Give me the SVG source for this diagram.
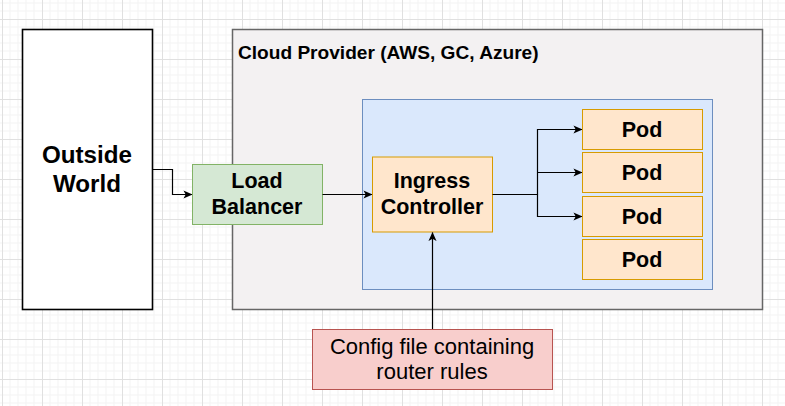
<svg xmlns="http://www.w3.org/2000/svg" width="785" height="406" viewBox="0 0 785 406">
<style>
text{font-family:"Liberation Sans",Arial,Helvetica,sans-serif;fill:#000;text-anchor:middle}
.b{font-weight:bold}
.conn{fill:none;stroke:#000;stroke-width:1.2}
</style>
<defs>
<pattern id="grid" x="2" y="19" width="40" height="40" patternUnits="userSpaceOnUse">
<path d="M8,0V40M16,0V40M24,0V40M32,0V40M0,8H40M0,16H40M0,24H40M0,32H40" fill="none" stroke="#f3f3f3" stroke-width="1"/>
<path d="M0.5,0V40M0,0.5H40" fill="none" stroke="#e0e0e0" stroke-width="1"/>
</pattern>
<marker id="arr" viewBox="0 0 10 10" refX="9.5" refY="5" markerWidth="9" markerHeight="9" markerUnits="userSpaceOnUse" orient="auto">
<path d="M0,0.5 L10,5 L0,9.5 L2.5,5 z" fill="#000"/>
</marker>
</defs>
<rect width="785" height="406" fill="#fff"/>
<rect width="785" height="406" fill="url(#grid)"/>

<g id="outside-world">
<rect x="22.5" y="29.5" width="130" height="280" fill="#fff" stroke="#000" stroke-width="1.6"/>
<text class="b" x="87" y="163" font-size="24.2">Outside</text>
<text class="b" x="87" y="192" font-size="24.2">World</text>
</g>

<g id="cloud-provider">
<rect x="232.5" y="29.5" width="530" height="280" fill="#f3f1f2" stroke="#666" stroke-width="1.5"/>
<text class="b" x="238" y="58.5" font-size="19.1" style="text-anchor:start">Cloud Provider (AWS, GC, Azure)</text>
</g>

<g id="cluster">
<rect x="362.5" y="99.5" width="350" height="190" fill="#dae8fc" stroke="#6c8ebf" stroke-width="1"/>
</g>

<g id="load-balancer">
<rect x="192.5" y="164.5" width="130" height="60" fill="#d5e8d4" stroke="#82b366" stroke-width="1"/>
<text class="b" x="257" y="188" font-size="21.5">Load</text>
<text class="b" x="257" y="214" font-size="21.5">Balancer</text>
</g>

<g id="ingress-controller">
<rect x="372.5" y="157" width="120" height="75" fill="#ffe6cc" stroke="#d79b00" stroke-width="1"/>
<text class="b" x="432" y="188" font-size="21.5">Ingress</text>
<text class="b" x="432" y="214" font-size="21.5">Controller</text>
</g>

<g id="pod1">
<rect x="582.5" y="109.5" width="120" height="40" fill="#ffe6cc" stroke="#d79b00" stroke-width="1"/>
<text class="b" x="642" y="137" font-size="21.5">Pod</text>
</g>
<g id="pod2">
<rect x="582.5" y="152.5" width="120" height="40" fill="#ffe6cc" stroke="#d79b00" stroke-width="1"/>
<text class="b" x="642" y="180" font-size="21.5">Pod</text>
</g>
<g id="pod3">
<rect x="582.5" y="196.5" width="120" height="40" fill="#ffe6cc" stroke="#d79b00" stroke-width="1"/>
<text class="b" x="642" y="224" font-size="21.5">Pod</text>
</g>
<g id="pod4">
<rect x="582.5" y="239.5" width="120" height="40" fill="#ffe6cc" stroke="#d79b00" stroke-width="1"/>
<text class="b" x="642" y="267" font-size="21.5">Pod</text>
</g>

<g id="config-file">
<rect x="312.5" y="329.5" width="240" height="60" fill="#f8cecc" stroke="#b85450" stroke-width="1"/>
<text x="432" y="353.5" font-size="22">Config file containing</text>
<text x="432" y="378.5" font-size="22">router rules</text>
</g>

<g id="connectors">
<path class="conn" d="M152.5,169.5 H172.5 V194.5 H192" marker-end="url(#arr)"/>
<path class="conn" d="M322.5,194.5 H372" marker-end="url(#arr)"/>
<path class="conn" d="M492.5,194.5 H537.5 V129.5 H582" marker-end="url(#arr)"/>
<path class="conn" d="M537.5,172.5 H582" marker-end="url(#arr)"/>
<path class="conn" d="M537.5,194.5 V216.5 H582" marker-end="url(#arr)"/>
<path class="conn" d="M432.5,329 V232.5" marker-end="url(#arr)"/>
</g>
</svg>
